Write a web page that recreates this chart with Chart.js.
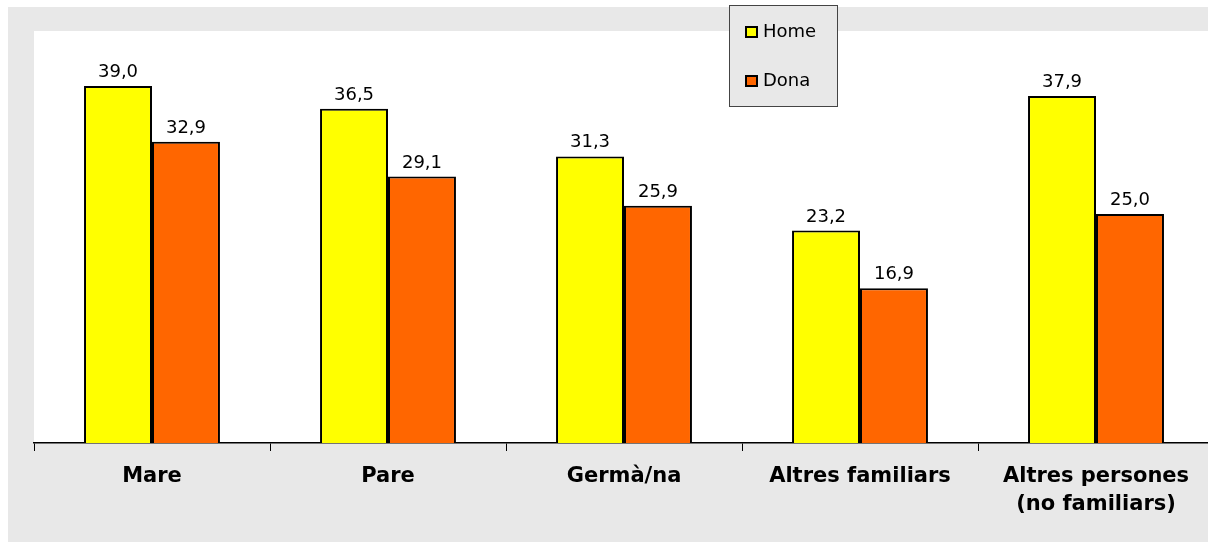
<!DOCTYPE html>
<html>
<head>
<meta charset="utf-8">
<script src="https://cdn.jsdelivr.net/npm/chart.js@4.4.1/dist/chart.umd.min.js"></script>
<style>
    html, body { margin: 0; padding: 0; background: #ffffff; overflow: hidden; }
    canvas { display: block; }
</style>
</head>
<body>
<canvas id="barChart" width="1222" height="542"></canvas>
<script>
// chart data
const categories = ["Mare", "Pare", "Germà/na", "Altres familiars", ["Altres persones", "(no familiars)"]];
const seriesNames = ["Home", "Dona"];
const homeValues = [39.0, 36.5, 31.3, 23.2, 37.9];
const donaValues = [32.9, 29.1, 25.9, 16.9, 25.0];
const seriesColors = ["#ffff00", "#ff6600"];

document.addEventListener("DOMContentLoaded", function () {

    // grey frame behind the white plot area
    const backgroundPlugin = {
        id: "background",
        beforeDraw(chart) {
            const ctx = chart.ctx;
            const area = chart.chartArea;
            ctx.save();
            ctx.fillStyle = "#e8e8e8";
            ctx.fillRect(8, 7, chart.width - 8, chart.height - 7);
            ctx.fillStyle = "#ffffff";
            ctx.fillRect(area.left, area.top, area.right - area.left, area.bottom - area.top);
            ctx.restore();
        }
    };

    // values written above each bar
    const valueLabelsPlugin = {
        id: "valueLabels",
        afterDatasetsDraw(chart) {
            const ctx = chart.ctx;
            ctx.save();
            ctx.font = "18px 'DejaVu Sans'";
            ctx.fillStyle = "#000000";
            ctx.textAlign = "center";
            ctx.textBaseline = "alphabetic";
            chart.data.datasets.forEach((ds, i) => {
                chart.getDatasetMeta(i).data.forEach((bar, j) => {
                    const txt = ds.data[j].toFixed(1).replace(".", ",");
                    ctx.fillText(txt, bar.x, bar.y - 9);
                });
            });
            ctx.restore();
        }
    };

    // boxed legend overlapping the top of the plot
    const boxLegendPlugin = {
        id: "boxLegend",
        afterDraw(chart) {
            const ctx = chart.ctx;
            ctx.save();
            ctx.fillStyle = "#e8e8e8";
            ctx.fillRect(729, 5, 109, 102);
            ctx.strokeStyle = "#444444";
            ctx.lineWidth = 1;
            ctx.strokeRect(729.5, 5.5, 108, 101);
            ctx.font = "18px 'DejaVu Sans'";
            ctx.textBaseline = "middle";
            ctx.textAlign = "left";
            const rows = [32, 81];
            chart.data.datasets.forEach((ds, i) => {
                const y = rows[i];
                ctx.fillStyle = ds.backgroundColor;
                ctx.fillRect(746, y - 5, 11, 10);
                ctx.strokeStyle = "#000000";
                ctx.lineWidth = 2;
                ctx.strokeRect(746, y - 5, 11, 10);
                ctx.fillStyle = "#000000";
                ctx.fillText(ds.label, 763, y);
            });
            ctx.restore();
        }
    };

    const ctx = document.getElementById("barChart").getContext("2d");
    new Chart(ctx, {
        type: "bar",
        data: {
            labels: categories,
            datasets: [
                { label: seriesNames[0], data: homeValues, backgroundColor: seriesColors[0], borderColor: "#000000", borderWidth: 2 },
                { label: seriesNames[1], data: donaValues, backgroundColor: seriesColors[1], borderColor: "#000000", borderWidth: 2 }
            ]
        },
        options: {
            responsive: false,
            animation: false,
            devicePixelRatio: 1,
            categoryPercentage: 0.576,
            barPercentage: 1.0,
            layout: { padding: { left: 34, top: 31, right: 8, bottom: 0 } },
            scales: {
                x: {
                    grid: { display: true, drawOnChartArea: false, offset: true, color: "#000000", tickLength: 8, lineWidth: 1 },
                    border: { display: true, color: "#000000", width: 1.5 },
                    ticks: {
                        color: "#000000",
                        font: { family: "'DejaVu Sans'", size: 21, weight: "bold", lineHeight: 1.35 },
                        padding: 11,
                        maxRotation: 0,
                        autoSkip: false
                    },
                    afterFit(scale) { scale.height = 99; }
                },
                y: {
                    display: false,
                    min: 0,
                    max: 45
                }
            },
            plugins: {
                legend: { display: false },
                tooltip: { enabled: false }
            }
        },
        plugins: [backgroundPlugin, valueLabelsPlugin, boxLegendPlugin]
    });
});
</script>
</body>
</html>
